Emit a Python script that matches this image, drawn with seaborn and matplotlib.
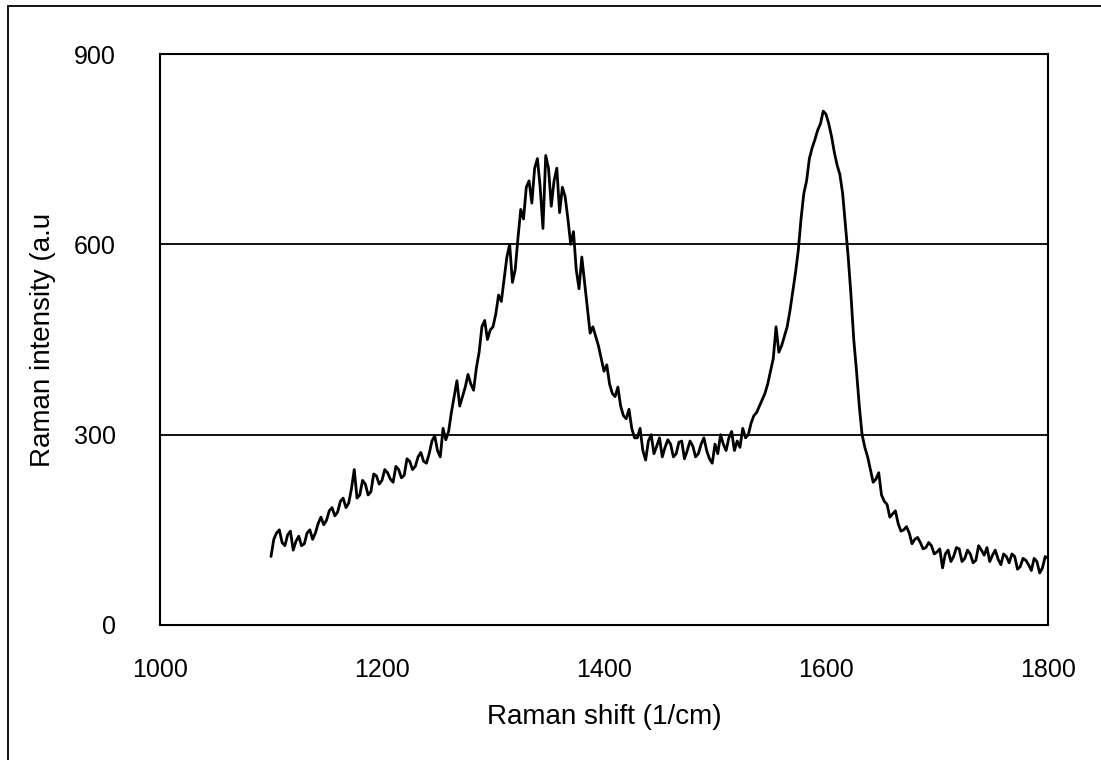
import matplotlib
matplotlib.use("Agg")
import matplotlib.pyplot as plt
from matplotlib.lines import Line2D
import seaborn as sns
import numpy as np
import pandas as pd

# Raman shift, 1100..1800 every 5 1/cm
shift = np.arange(1100, 1801, 5)

# intensities at those shifts
intensity = [
    108, 145, 130, 142, 118, 140, 128, 150, 145, 170,
    165, 185, 178, 200, 192, 245, 205, 222, 210, 235,
    228, 240, 225, 245, 236, 258, 250, 272, 255, 290,
    275, 310, 305, 360, 345, 375, 380, 405, 470, 450,
    470, 520, 545, 600, 560, 655, 690, 665, 735, 625,
    720, 700, 650, 675, 600, 560, 580, 500, 470, 440,
    400, 380, 360, 345, 325, 310, 295, 275, 290, 270,
    295, 280, 285, 270, 290, 275, 282, 270, 295, 262,
    285, 300, 275, 305, 290, 310, 300, 330, 345, 365,
    400, 470, 440, 470, 525, 590, 680, 735, 765, 790,
    805, 770, 725, 680, 580, 450, 345, 280, 245, 230,
    205, 190, 175, 160, 150, 145, 135, 130, 122, 125,
    115, 90, 118, 108, 120, 105, 112, 102, 118, 122,
    110, 104, 112, 98, 108, 92, 102, 86, 100, 90,
    105,
]

# in-between readings (1102.5, 1107.5, ...) for the noise
shift_mid = np.arange(1102.5, 1800, 5)
intensity_mid = [
    135, 150, 125, 148, 132, 125, 145, 135, 160, 158,
    180, 172, 195, 185, 215, 200, 228, 205, 238, 222,
    245, 230, 250, 232, 262, 245, 265, 258, 270, 298,
    265, 292, 335, 385, 360, 395, 370, 430, 480, 465,
    490, 510, 580, 540, 610, 640, 700, 720, 690, 740,
    660, 720, 690, 640, 620, 530, 540, 460, 455, 420,
    410, 365, 375, 330, 340, 295, 310, 260, 300, 282,
    265, 292, 265, 288, 262, 290, 265, 285, 275, 255,
    270, 285, 295, 275, 280, 295, 318, 335, 355, 380,
    420, 430, 455, 495, 555, 640, 700, 752, 780, 810,
    790, 745, 710, 630, 520, 400, 300, 265, 225, 240,
    195, 170, 180, 148, 155, 128, 138, 120, 130, 112,
    120, 112, 100, 122, 100, 118, 98, 125, 110, 100,
    118, 95, 108, 112, 88, 105, 95, 105, 82, 108,
]

x_ticks = [1000, 1200, 1400, 1600, 1800]
y_ticks = [0, 300, 600, 900]

df = pd.DataFrame({
    "shift": np.concatenate([shift, shift_mid]),
    "intensity": np.concatenate([intensity, intensity_mid]),
})

sns.set_style("white")
plt.rcParams["font.family"] = ["Liberation Sans", "DejaVu Sans"]
plt.rcParams["text.color"] = "black"
plt.rcParams["axes.labelcolor"] = "black"
plt.rcParams["xtick.color"] = "black"
plt.rcParams["ytick.color"] = "black"

fig = plt.figure(figsize=(11.01, 7.6), dpi=100)
ax = fig.add_axes([160 / 1101, 1 - 625 / 760, 888 / 1101, 571 / 760])

for yv in (300, 600):
    ax.axhline(yv, color="black", lw=1.3, zorder=1)

sns.lineplot(data=df, x="shift", y="intensity", color="black", lw=2.0,
             estimator=None, sort=True, ax=ax, zorder=3)

ax.set_xlim(1000, 1800)
ax.set_ylim(0, 900)
ax.set_xticks(x_ticks)
ax.set_yticks(y_ticks)
ax.tick_params(axis="x", direction="in", length=6, width=1.2, color="black",
               labelsize=18, pad=24)
ax.tick_params(axis="y", length=0, labelsize=18, pad=32)
for s in ax.spines.values():
    s.set_color("black")
    s.set_linewidth(1.5)

ax.set_xlabel("Raman shift (1/cm)", fontsize=20)
ax.set_ylabel("Raman intensity (a.u", fontsize=20)
ax.xaxis.set_label_coords(0.5, -(704 - 625) / 571)
ax.yaxis.set_label_coords(-(160 - 56) / 888, 0.5)

# scanned outer frame (left and top edges only)
fig.add_artist(Line2D([8 / 1101, 8 / 1101], [0, 1 - 6 / 760], color="black", lw=1.3))
fig.add_artist(Line2D([8 / 1101, 1], [1 - 6 / 760, 1 - 6 / 760], color="black", lw=1.3))

fig.savefig("out.png", dpi=100)
plt.close(fig)
